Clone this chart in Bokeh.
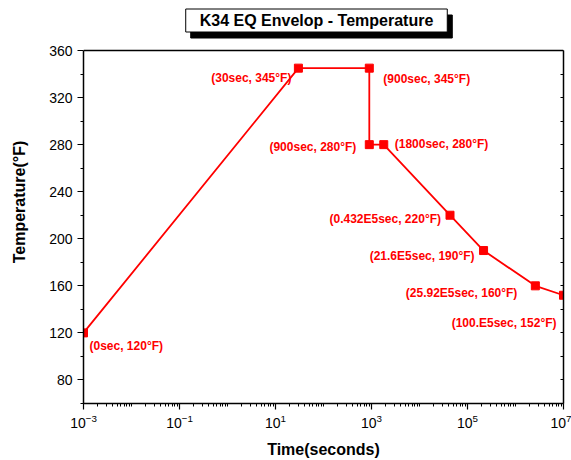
from bokeh.plotting import figure
from bokeh.models import (FixedTicker, LinearAxis, Label, ColumnDataSource, Span,
                          CustomJSTickFormatter, LogTickFormatter)
from bokeh.embed import file_html
from bokeh.resources import INLINE
from bokeh.core.properties import value

# ---- data ----
time_s = [1e-3, 30, 900, 900, 1800, 43200, 216000, 2592000, 1e7]
temp_f = [120, 345, 345, 280, 280, 220, 190, 160, 152]
point_labels = ["(0sec, 120°F)", "(30sec, 345°F)", "(900sec, 345°F)",
                "(900sec, 280°F)", "(1800sec, 280°F)", "(0.432E5sec, 220°F)",
                "(21.6E5sec, 190°F)", "(25.92E5sec, 160°F)", "(100.E5sec, 152°F)"]
y_major = [80, 120, 160, 200, 240, 280, 320, 360]
y_minor = [60, 100, 140, 180, 220, 260, 300, 340]
x_major = [1e-3, 1e-1, 1e1, 1e3, 1e5, 1e7]
x_minor = [k * 10.0 ** n for n in range(-3, 7) for k in range(1, 10)]
y_lo, y_hi = 60, 360

# ---- label styles (screen offsets) ----
lab_align = ["left", "right", "left", "right", "left", "right", "right", "right", "right"]
lab_dx = [6, -7, 14, -13, 11, -9, -9, -18, -7]
lab_dy = [13, 10, 11, 2, -1, 4, 5, 7, 28]

RED = "#ff0000"
FONT = "Liberation Sans"

# plot area of the data: 353 px tall; the frame is extended up to the page top
# so that the boxed title can sit inside it
DATA_PX = 353
TOP_PX = 50
y_top = y_hi + TOP_PX * (y_hi - y_lo) / DATA_PX

src = ColumnDataSource(dict(x=time_s, y=temp_f, t=point_labels,
                            align=lab_align, dx=lab_dx, dy=lab_dy))

p = figure(x_axis_type="log", x_range=(1e-3, 1e7), y_range=(y_lo, y_top),
           frame_width=480, frame_height=DATA_PX + TOP_PX,
           min_border_left=83, min_border_top=0, min_border_right=8, min_border_bottom=57,
           output_backend="svg", toolbar_location=None)
p.grid.visible = False
p.outline_line_color = None
p.background_fill_color = "white"
p.border_fill_color = "white"

# top edge of the data box
p.add_layout(Span(location=y_hi, dimension="width", line_color="black", line_width=1.5))

p.line("x", "y", source=src, line_color=RED, line_width=1.8)
p.scatter("x", "y", source=src, marker="square", size=8, fill_color=RED, line_color=RED)
p.text("x", "y", text="t", source=src, text_align="align", x_offset="dx", y_offset="dy",
       text_baseline="middle", text_color=RED, text_font=value(FONT),
       text_font_size="12px", text_font_style="bold")

# ---- axes ----
xa = p.xaxis[0]
xa.ticker = FixedTicker(ticks=x_major, minor_ticks=x_minor)
xa.formatter = LogTickFormatter()
xa.axis_label = "Time(seconds)"
ya = p.yaxis[0]
ya.ticker = FixedTicker(ticks=y_major, minor_ticks=y_minor)
ya.axis_label = "Temperature(°F)"
ya.bounds = (y_lo, y_hi)

for ax in (xa, ya):
    ax.axis_line_color = "black"
    ax.axis_line_width = 1.5
    ax.major_tick_line_width = 1.2
    ax.minor_tick_line_width = 1
    ax.major_tick_out = 6
    ax.major_tick_in = 0
    ax.minor_tick_out = 3
    ax.minor_tick_in = 0
    ax.major_label_text_font = FONT
    ax.major_label_text_font_size = "14px"
    ax.major_label_text_color = "black"
    ax.axis_label_text_font = FONT
    ax.axis_label_text_font_size = "16px"
    ax.axis_label_text_font_style = "bold"
    ax.axis_label_text_color = "black"
xa.major_label_standoff = 4
xa.axis_label_standoff = 10
ya.major_label_standoff = 5
ya.axis_label_standoff = 18

blank = CustomJSTickFormatter(code="return ''")
right_ax = LinearAxis(ticker=FixedTicker(ticks=y_major + y_minor), formatter=blank,
                      bounds=(y_lo, y_hi),
                      major_tick_in=3, major_tick_out=0, minor_tick_in=0, minor_tick_out=0,
                      major_label_text_font_size="0px", major_label_standoff=0,
                      axis_line_width=1.5)
p.add_layout(right_ax, "right")

# ---- boxed title with drop shadow (screen units relative to the frame) ----
title_text = "K34 EQ Envelop - Temperature"
common = dict(x=233, y=DATA_PX + TOP_PX - 20, x_units="screen", y_units="screen",
              text=title_text, text_align="center", text_baseline="middle",
              text_font=FONT, text_font_size="16px", text_font_style="bold",
              padding=(14, 3))
shadow = Label(x_offset=5, y_offset=-6, text_color="black",
               background_fill_color="black", border_line_color="black", **common)
box = Label(text_color="black", background_fill_color="white",
            border_line_color="black", border_line_width=1, **common)
p.add_layout(shadow)
p.add_layout(box)

open("out.html", "w").write(file_html(p, INLINE))
